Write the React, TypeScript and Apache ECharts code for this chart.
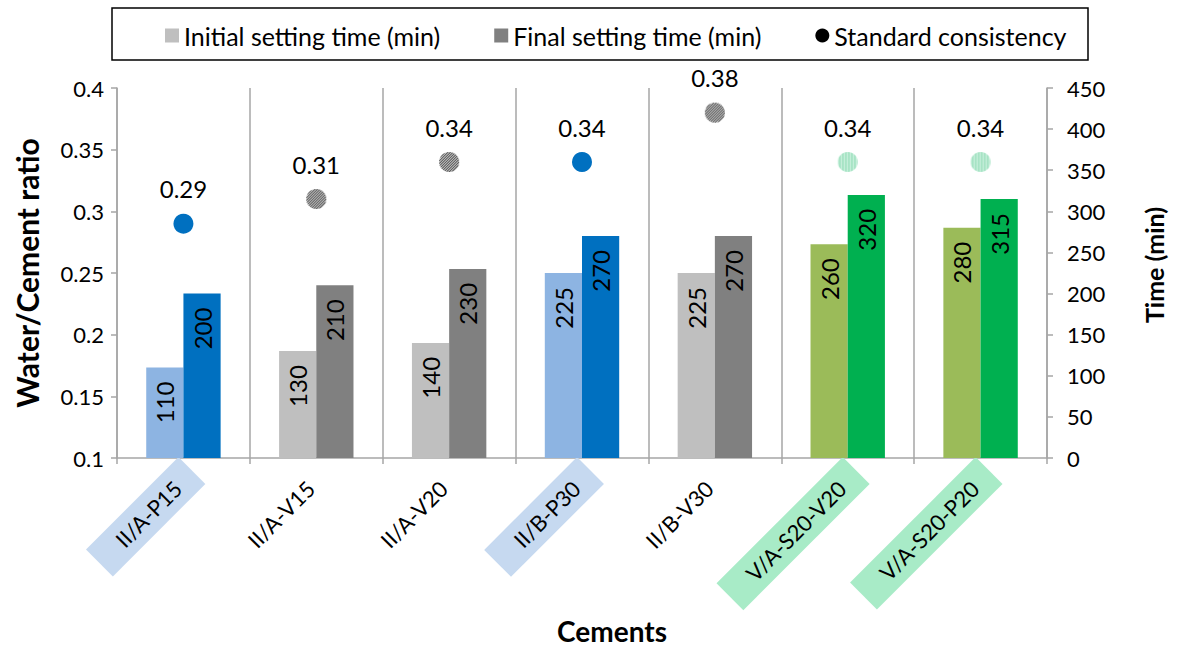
import React, { useEffect, useRef } from "react";
import * as echarts from "echarts";

const categories = ["II/A-P15", "II/A-V15", "II/A-V20", "II/B-P30", "II/B-V30", "V/A-S20-V20", "V/A-S20-P20"];
const labelHighlight = ["blue", "", "", "blue", "", "green", "green"];
const initialTime = [110, 130, 140, 225, 225, 260, 280];
const finalTime = [200, 210, 230, 270, 270, 320, 315];
const consistency = [0.29, 0.31, 0.34, 0.34, 0.38, 0.34, 0.34];
const consistencyLabels = ["0.29", "0.31", "0.34", "0.34", "0.38", "0.34", "0.34"];
const initialColors = ["#8DB4E2", "#BFBFBF", "#BFBFBF", "#8DB4E2", "#BFBFBF", "#9BBB59", "#9BBB59"];
const finalColors = ["#0070C0", "#808080", "#808080", "#0070C0", "#808080", "#00B050", "#00B050"];
const dotStyles = ["blue", "hatch", "hatch", "blue", "hatch", "green", "green"];

const FONT = "Lato";
const DOT = 20;

function makeDot(kind: string): string {
  const k = 4;
  const s = DOT * k;
  const c = document.createElement("canvas");
  c.width = s;
  c.height = s;
  const ctx = c.getContext("2d")!;
  ctx.beginPath();
  ctx.arc(s / 2, s / 2, s / 2, 0, Math.PI * 2);
  ctx.closePath();
  ctx.clip();
  if (kind === "hatch") {
    ctx.fillStyle = "#3A3A3A";
    ctx.fillRect(0, 0, s, s);
    ctx.strokeStyle = "#E6E6E6";
    ctx.lineWidth = 0.9 * k;
    const step = 2.6 * k;
    ctx.beginPath();
    for (let t = -s; t < 2 * s; t += step) {
      ctx.moveTo(t, s);
      ctx.lineTo(t + s, 0);
    }
    ctx.stroke();
  } else if (kind === "green") {
    ctx.fillStyle = "#A2E2C2";
    ctx.fillRect(0, 0, s, s);
    ctx.fillStyle = "#CDF1DF";
    const step = 3 * k;
    for (let x = 0; x < s; x += step) {
      ctx.fillRect(x, 0, 1.2 * k, s);
    }
  } else {
    ctx.fillStyle = "#0070C0";
    ctx.fillRect(0, 0, s, s);
  }
  return "image://" + c.toDataURL("image/png");
}

export default function App() {
  const ref = useRef<HTMLDivElement>(null);
  useEffect(() => {
    document.body.style.margin = "0";
    const chart = echarts.init(ref.current!, null, { renderer: "svg" });
    const dotData = consistency.map((v, i) => {
      const s = dotStyles[i];
      if (s === "blue") return { value: v, itemStyle: { color: "#0070C0", opacity: 1 } };
      return { value: v, symbol: makeDot(s), itemStyle: { opacity: 1 } };
    });
    const barLabel = {
      show: true,
      position: "insideTop",
      rotate: 90,
      align: "right",
      verticalAlign: "middle",
      distance: 14,
      fontFamily: FONT,
      fontSize: 24,
      color: "#000",
    };
    const richBase = { fontFamily: FONT, fontSize: 22, lineHeight: 24, color: "#000", padding: [8, 20, 8, 28] };
    chart.setOption({
      animation: false,
      textStyle: { fontFamily: FONT },
      graphic: [
        {
          type: "rect",
          shape: { x: 112, y: 8, width: 976, height: 52 },
          style: { fill: "none", stroke: "#000", lineWidth: 1.5 },
          silent: true,
        },
      ],
      legend: {
        top: 18,
        left: 160,
        itemGap: 54,
        itemWidth: 14,
        itemHeight: 14,
        textStyle: { fontFamily: FONT, fontSize: 25, color: "#000" },
        data: [
          { name: "Initial setting time (min)", icon: "rect" },
          { name: "Final setting time (min)", icon: "rect" },
          { name: "Standard consistency", icon: "circle" },
        ],
      },
      grid: { left: 117, right: 131, top: 88, bottom: 190, outerBoundsMode: "none", containLabel: false },
      xAxis: {
        type: "category",
        data: categories,
        boundaryGap: true,
        name: "Cements",
        nameLocation: "middle",
        nameGap: 152,
        nameTextStyle: { fontFamily: FONT, fontSize: 28, fontWeight: "bold", color: "#000", padding: [0, 0, 0, 60] },
        axisLine: { show: true, lineStyle: { color: "#A6A6A6", width: 1.5 } },
        axisTick: { show: true, length: 6, lineStyle: { color: "#A6A6A6", width: 1.5 } },
        splitLine: { show: true, lineStyle: { color: "#A6A6A6", width: 1.5 } },
        axisLabel: {
          rotate: 45,
          margin: 4,
          align: "right",
          verticalAlign: "top",
          fontFamily: FONT,
          fontSize: 22,
          color: "#000",
          formatter: (v: string, i: number) => {
            const h = labelHighlight[i];
            return h ? `{${h}|${v}}` : `{plain|${v}}`;
          },
          rich: {
            plain: { ...richBase },
            blue: { ...richBase, backgroundColor: "#C6D9F0" },
            green: { ...richBase, backgroundColor: "#A8EBC7" },
          },
        },
      },
      yAxis: [
        {
          type: "value",
          min: 0.1,
          max: 0.4,
          interval: 0.05,
          name: "Water/Cement ratio",
          nameLocation: "middle",
          nameGap: 75,
          nameTextStyle: { fontFamily: FONT, fontSize: 30, fontWeight: "bold", color: "#000" },
          axisLine: { show: true, lineStyle: { color: "#A6A6A6", width: 1.5 } },
          axisTick: { show: true, length: 6, lineStyle: { color: "#A6A6A6", width: 1.5 } },
          splitLine: { show: false },
          axisLabel: {
            margin: 13,
            fontFamily: FONT,
            fontSize: 22,
            color: "#000",
            formatter: (v: number) => String(+v.toFixed(2)),
          },
        },
        {
          type: "value",
          min: 0,
          max: 450,
          interval: 50,
          position: "right",
          name: "Time (min)",
          nameLocation: "middle",
          nameGap: 94,
          nameTextStyle: { fontFamily: FONT, fontSize: 25, fontWeight: "bold", color: "#000", padding: [0, 0, 0, 16] },
          axisLine: { show: true, lineStyle: { color: "#A6A6A6", width: 1.5 } },
          axisTick: { show: true, length: 6, lineStyle: { color: "#A6A6A6", width: 1.5 } },
          splitLine: { show: false },
          axisLabel: { margin: 20, fontFamily: FONT, fontSize: 22, color: "#000" },
        },
      ],
      series: [
        {
          name: "Initial setting time (min)",
          type: "bar",
          yAxisIndex: 1,
          barWidth: "28%",
          barGap: "0%",
          itemStyle: { color: "#BFBFBF" },
          label: barLabel,
          data: initialTime.map((v, i) => ({ value: v, itemStyle: { color: initialColors[i] } })),
        },
        {
          name: "Final setting time (min)",
          type: "bar",
          yAxisIndex: 1,
          barWidth: "28%",
          barGap: "0%",
          itemStyle: { color: "#808080" },
          label: barLabel,
          data: finalTime.map((v, i) => ({ value: v, itemStyle: { color: finalColors[i] } })),
        },
        {
          name: "Standard consistency",
          type: "scatter",
          yAxisIndex: 0,
          symbol: "circle",
          symbolSize: DOT,
          z: 5,
          itemStyle: { color: "#000", opacity: 1 },
          label: {
            show: true,
            position: "top",
            distance: 13,
            fontFamily: FONT,
            fontSize: 24,
            color: "#000",
            formatter: (p: any) => consistencyLabels[p.dataIndex],
          },
          data: dotData,
        },
      ],
    });
    return () => chart.dispose();
  }, []);
  return <div ref={ref} style={{ width: 1178, height: 648 }} />;
}
